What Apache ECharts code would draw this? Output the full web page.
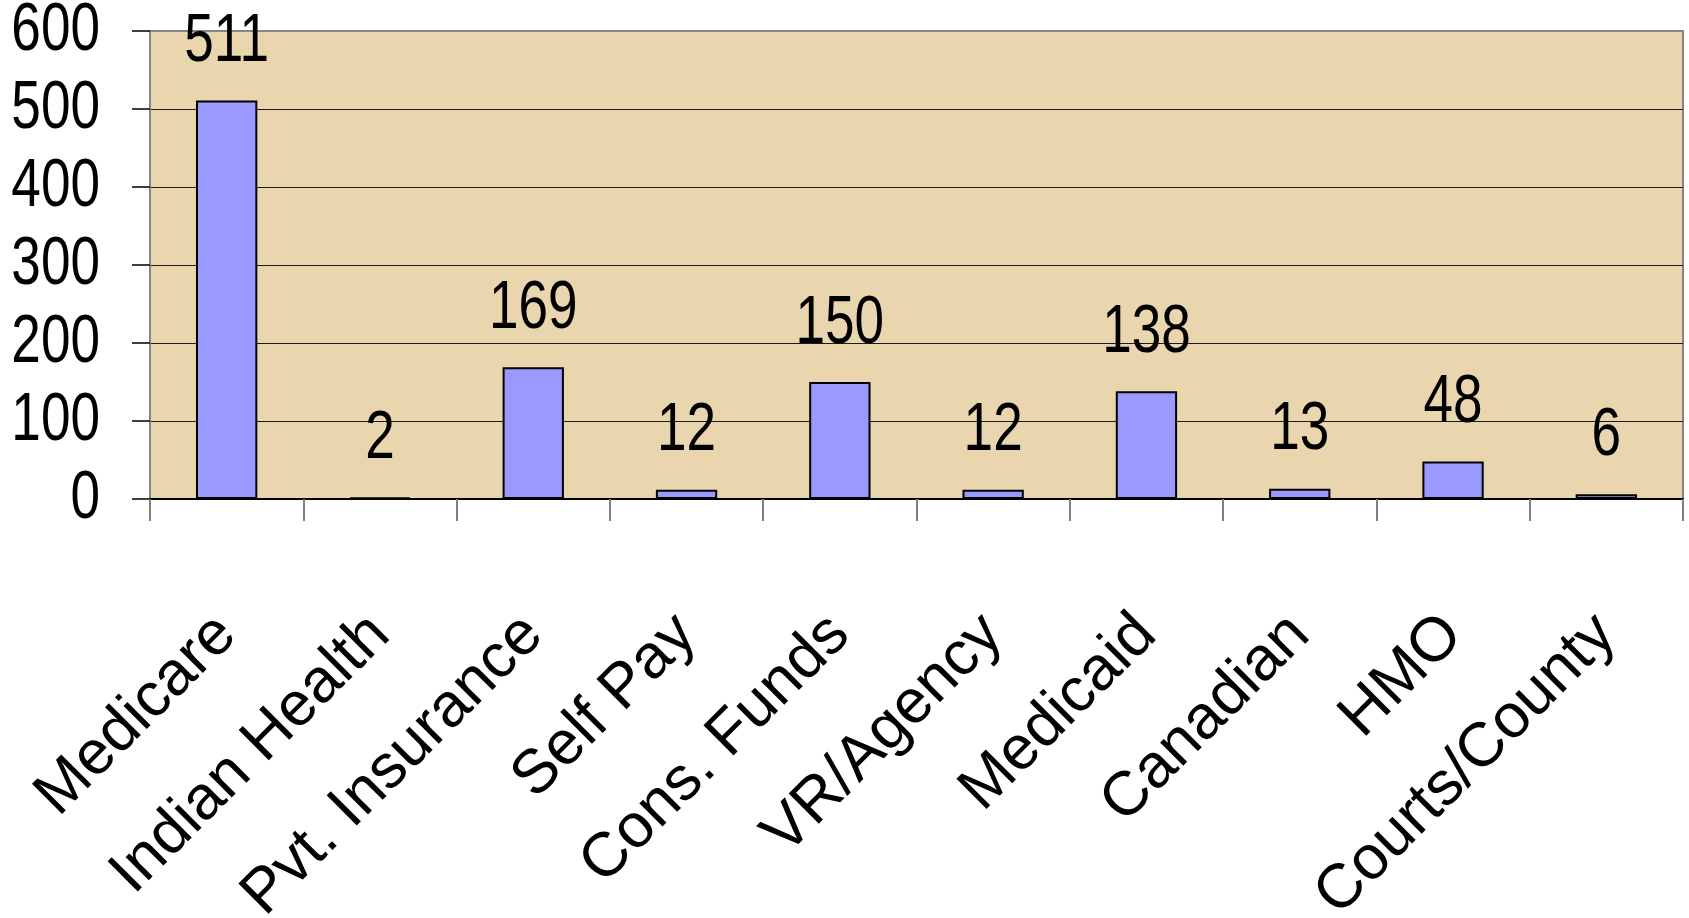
<!DOCTYPE html>
<html>
<head>
<meta charset="utf-8">
<script src="https://cdn.jsdelivr.net/npm/echarts@6/dist/echarts.min.js"></script>
<style>
  html, body { margin: 0; padding: 0; background: #ffffff; }
  #chart { width: 1689px; height: 918px; }
</style>
</head>
<body>
<div id="chart"></div>
<script>
// Payer sources and number of cases for each
const categories = ['Medicare', 'Indian Health', 'Pvt. Insurance', 'Self Pay', 'Cons. Funds',
                    'VR/Agency', 'Medicaid', 'Canadian', 'HMO', 'Courts/County'];
const cases = [511, 2, 169, 12, 150, 12, 138, 13, 48, 6];
const yTicks = [0, 100, 200, 300, 400, 500, 600];

const FONT = '"Liberation Sans", Arial, sans-serif';
const NUMBER_SIZE = 69;
const NUMBER_SQUEEZE = 0.77;   // numbers use a condensed look

const chart = echarts.init(document.getElementById('chart'), null, { renderer: 'canvas' });

// Condense the numeric labels (axis values and bar values) along their text
// direction. Each drawn text run (tspan) belongs to a Text element; squeeze
// that element about its own anchor point.
function condenseNumbers() {
  const zr = chart.getZr();
  const seen = new Set();
  let changed = false;
  zr.storage.getDisplayList(true).forEach(function (d) {
    const t = d.type === 'tspan' ? d.parent : (d.type === 'text' ? d : null);
    if (!t || seen.has(t)) return;
    seen.add(t);
    const txt = t.style && t.style.text != null ? String(t.style.text) : '';
    if (/^\d+$/.test(txt) && t.scaleX !== NUMBER_SQUEEZE) {
      t.originX = 0;
      t.originY = 0;
      t.scaleX = NUMBER_SQUEEZE;
      t.markRedraw();
      changed = true;
    }
  });
  if (changed) zr.refreshImmediately();
}
chart.on('finished', condenseNumbers);
chart.on('rendered', condenseNumbers);

chart.setOption({
  animation: false,
  backgroundColor: '#ffffff',
  grid: {
    left: 150, right: 6, top: 31, bottom: 419,
    outerBoundsMode: 'none',
    containLabel: false,
    show: true,
    backgroundColor: '#e9d6af',
    borderColor: '#858585',
    borderWidth: 2
  },
  xAxis: {
    type: 'category',
    data: categories,
    boundaryGap: true,
    axisLine: { show: true, lineStyle: { color: '#000000', width: 2 } },
    axisTick: { show: true, length: 22, alignWithLabel: false, lineStyle: { color: '#808080', width: 2 } },
    axisLabel: {
      rotate: 45,
      margin: 126,
      interval: 0,
      color: '#000000',
      fontFamily: FONT,
      fontSize: 62
    },
    splitLine: { show: false }
  },
  yAxis: {
    type: 'value',
    min: yTicks[0],
    max: yTicks[yTicks.length - 1],
    interval: yTicks[1] - yTicks[0],
    axisLine: { show: true, lineStyle: { color: '#858585', width: 2 } },
    axisTick: { show: true, length: 18, lineStyle: { color: '#000000', width: 1.5 } },
    axisLabel: {
      margin: 50,
      color: '#000000',
      fontFamily: FONT,
      fontSize: NUMBER_SIZE,
      padding: [12, 0, 0, 0]
    },
    splitLine: { show: true, showMinLine: false, showMaxLine: false, lineStyle: { color: '#1a1a1a', width: 1.2 } }
  },
  series: [{
    type: 'bar',
    data: cases,
    barWidth: '40%',
    itemStyle: { color: '#9999ff', borderColor: '#000000', borderWidth: 2 },
    label: {
      show: true,
      position: 'top',
      distance: 24,
      color: '#000000',
      fontFamily: FONT,
      fontSize: NUMBER_SIZE
    }
  }]
});
condenseNumbers();
setTimeout(condenseNumbers, 0);
</script>
</body>
</html>
